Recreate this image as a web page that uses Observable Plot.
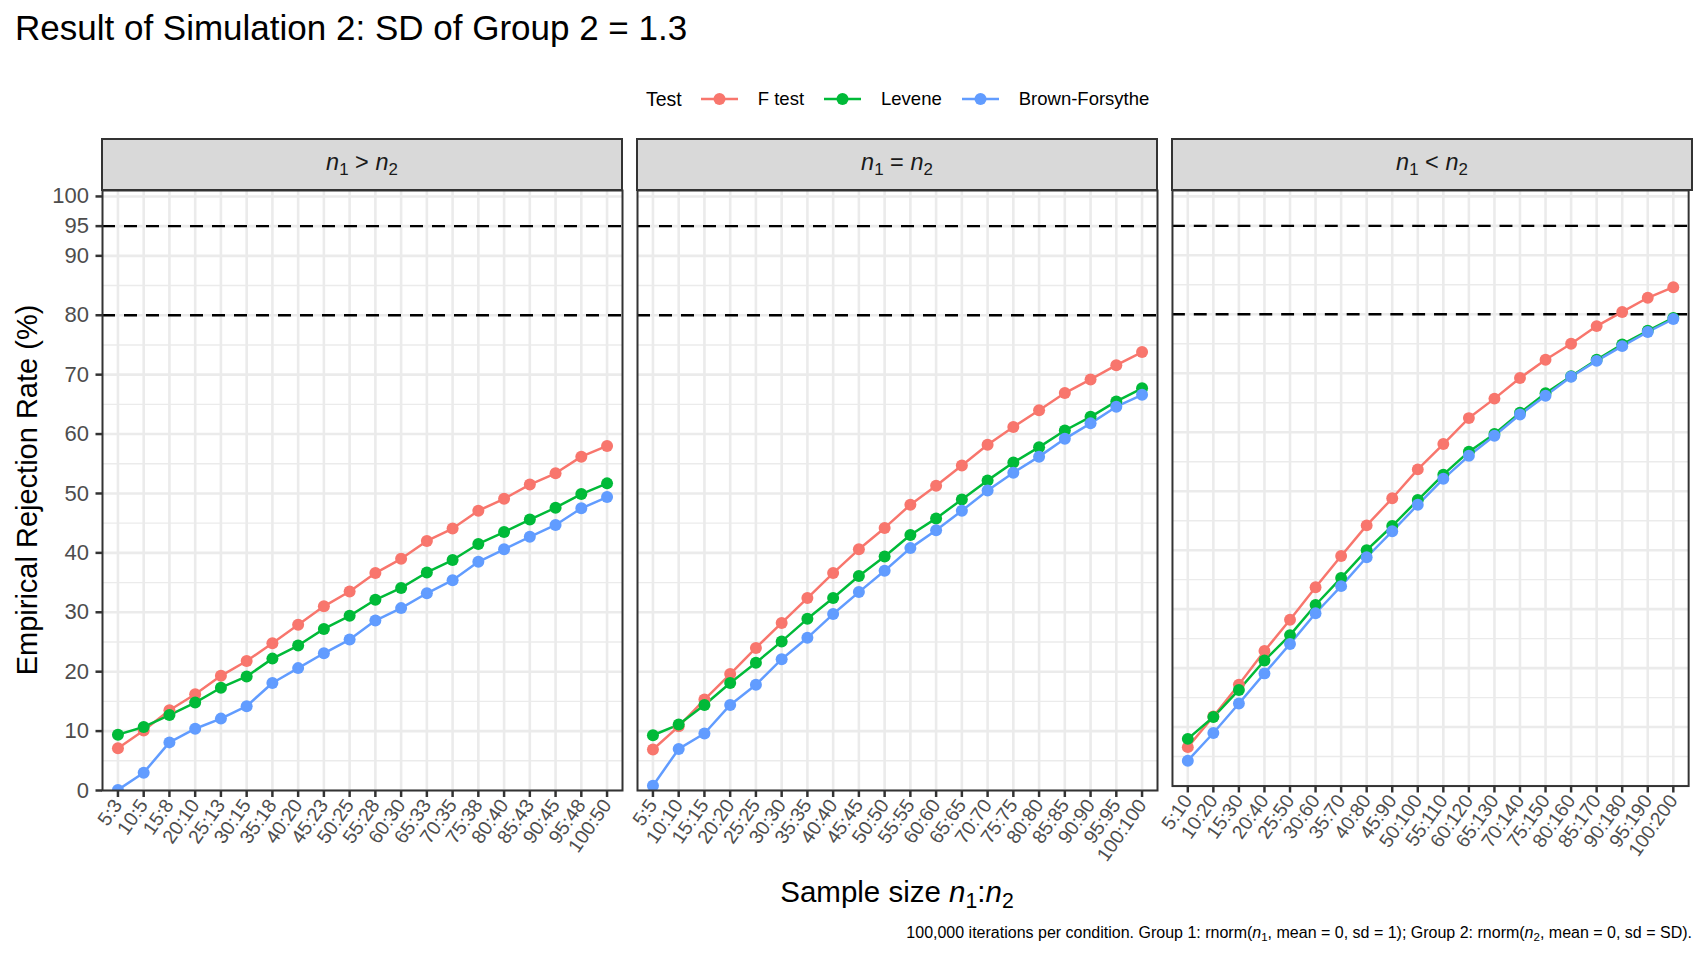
<!DOCTYPE html>
<html>
<head>
<meta charset="utf-8">
<script src="https://cdn.jsdelivr.net/npm/d3@7"></script>
<script src="https://cdn.jsdelivr.net/npm/@observablehq/plot@0.6"></script>
<style>
  html, body { margin: 0; padding: 0; background: #fff; }
  #wrap { position: relative; width: 1708px; height: 960px; font-family: "Liberation Sans", Arial, sans-serif; color: #000; overflow: hidden; }
  .abs { position: absolute; white-space: nowrap; }
  .strip { position: absolute; box-sizing: border-box; background: #D9D9D9; border: 2px solid #333333; display: flex; align-items: center; justify-content: center; color: #1A1A1A; padding-bottom: 4px; }
  .strip span.t { font-size: 23.5px; white-space: pre; }
  sub { font-size: 0.72em; vertical-align: -0.3em; line-height: 0; }
  .legend { display: flex; align-items: center; }
  .legend .title { font-size: 19.5px; margin-right: 19px; }
  .legend .lab { font-size: 18.5px; margin-left: 20px; margin-right: 20px; }
</style>
</head>
<body>
<div id="wrap"></div>
<script>
// ---------- data ----------
const tests = ["F test", "Levene", "Brown-Forsythe"];
const testColors = ["#F8766D", "#00BA38", "#619CFF"];
const panelNames = ["n1 > n2", "n1 = n2", "n1 < n2"];
const panelLabels = ["<i>n</i><sub>1</sub> &gt; <i>n</i><sub>2</sub>", "<i>n</i><sub>1</sub> = <i>n</i><sub>2</sub>", "<i>n</i><sub>1</sub> &lt; <i>n</i><sub>2</sub>"];

const sizesGT = ["5:3","10:5","15:8","20:10","25:13","30:15","35:18","40:20","45:23","50:25","55:28","60:30","65:33","70:35","75:38","80:40","85:43","90:45","95:48","100:50"];
const sizesEQ = ["5:5","10:10","15:15","20:20","25:25","30:30","35:35","40:40","45:45","50:50","55:55","60:60","65:65","70:70","75:75","80:80","85:85","90:90","95:95","100:100"];
const sizesLT = ["5:10","10:20","15:30","20:40","25:50","30:60","35:70","40:80","45:90","50:100","55:110","60:120","65:130","70:140","75:150","80:160","85:170","90:180","95:190","100:200"];

const fGT      = [7.1,10.1,13.5,16.2,19.3,21.8,24.8,27.9,31.0,33.5,36.6,39.0,42.0,44.1,47.1,49.1,51.5,53.4,56.2,58.0];
const leveneGT = [9.4,10.7,12.7,14.8,17.3,19.2,22.2,24.4,27.2,29.4,32.1,34.1,36.7,38.8,41.5,43.5,45.6,47.6,49.9,51.7];
const bfGT     = [0.1,3.0,8.1,10.4,12.1,14.2,18.1,20.6,23.1,25.4,28.6,30.7,33.2,35.4,38.5,40.6,42.7,44.7,47.5,49.4];

const fEQ      = [6.9,10.8,15.3,19.6,24.0,28.2,32.4,36.6,40.6,44.2,48.1,51.3,54.7,58.2,61.2,64.0,66.9,69.2,71.6,73.8];
const leveneEQ = [9.3,11.1,14.4,18.1,21.5,25.1,28.9,32.4,36.1,39.4,43.0,45.8,49.0,52.2,55.2,57.8,60.6,62.9,65.5,67.7];
const bfEQ     = [0.8,7.0,9.6,14.4,17.8,22.1,25.7,29.7,33.4,37.0,40.8,43.8,47.1,50.5,53.5,56.2,59.2,61.8,64.6,66.6];

const fLT      = [6.6,11.8,17.2,22.9,28.2,33.7,39.0,44.2,48.8,53.7,58.0,62.4,65.7,69.2,72.3,75.0,78.0,80.4,82.8,84.6];
const leveneLT = [8.0,11.7,16.3,21.3,25.6,30.7,35.3,40.0,44.1,48.5,52.8,56.7,59.7,63.3,66.6,69.5,72.3,74.9,77.2,79.4];
const bfLT     = [4.3,9.0,14.0,19.1,24.1,29.3,33.9,38.8,43.2,47.7,52.1,56.0,59.4,63.0,66.2,69.4,72.1,74.6,77.0,79.2];

const yBreaks = [0,10,20,30,40,50,60,70,80,90,95,100];
const yMinor = [5,15,25,35,45,55,65,75,85];
const refLines = [80, 95];
const yDomain = [0, 101];

const titleText = "Result of Simulation 2: SD of Group 2 = 1.3";
const yTitle = "Empirical Rejection Rate (%)";
const xTitleHTML = "Sample size <i>n</i><sub>1</sub>:<i>n</i><sub>2</sub>";
const captionHTML = "100,000 iterations per condition. Group 1: rnorm(<i>n</i><sub>1</sub>, mean = 0, sd = 1); Group 2: rnorm(<i>n</i><sub>2</sub>, mean = 0, sd = SD).";

// ---------- build ----------
const panelSizes = [sizesGT, sizesEQ, sizesLT];
const panelSeries = [[fGT, leveneGT, bfGT], [fEQ, leveneEQ, bfEQ], [fLT, leveneLT, bfLT]];

function rowsFor(p) {
  const rows = [];
  panelSeries[p].forEach((vals, t) => {
    vals.forEach((v, i) => rows.push({panel: panelNames[p], size: panelSizes[p][i], test: tests[t], rate: v}));
  });
  return rows;
}

const wrap = document.getElementById("wrap");
const FONT = "'Liberation Sans', Arial, sans-serif";

// layout (pixels)
const panelTop = 190, panelH = 600;
const panelLefts = [102, 637, 1172];
const panelW = 520;
const stripTop = 138;
const mT = 4, mB = 100, mR = 20;

function el(html, cls, style) {
  const d = document.createElement("div");
  d.className = cls;
  d.innerHTML = html;
  Object.assign(d.style, style);
  wrap.appendChild(d);
  return d;
}

// title
el(titleText, "abs", {left: "15px", top: "10px", fontSize: "35px", lineHeight: "35px"});

// legend
const leg = el("", "abs legend", {left: "646px", top: "84px", height: "30px"});
leg.innerHTML = `<span class="title">Test</span>` + tests.map((t, i) =>
  `<svg width="37" height="20" style="overflow:visible"><line x1="0" x2="37" y1="10" y2="10" stroke="${testColors[i]}" stroke-width="2.5"/><circle cx="18.5" cy="10" r="6" fill="${testColors[i]}"/></svg><span class="lab">${t}</span>`
).join("");

// panels
panelNames.forEach((name, p) => {
  const first = p === 0;
  const mL = first ? panelLefts[0] : 4;
  const rows = rowsFor(p);
  const chart = Plot.plot({
    width: mL + panelW + mR,
    height: mT + panelH + mB,
    marginLeft: mL, marginRight: mR, marginTop: mT, marginBottom: mB,
    style: {fontFamily: FONT, background: "transparent", overflow: "visible"},
    x: {type: "point", domain: panelSizes[p], padding: 0.6, round: false, axis: null},
    y: {domain: yDomain, nice: false, axis: null},
    color: {domain: tests, range: testColors},
    marks: [
      Plot.ruleY(yMinor, {stroke: "#EBEBEB", strokeWidth: 1.4}),
      Plot.ruleY(yBreaks, {stroke: "#EBEBEB", strokeWidth: 2.6}),
      Plot.ruleX(panelSizes[p], {stroke: "#EBEBEB", strokeWidth: 2.6}),
      Plot.ruleY(refLines, {stroke: "#000", strokeWidth: 2.4, strokeDasharray: "13,9"}),
      Plot.line(rows, {x: "size", y: "rate", z: "test", stroke: "test", strokeWidth: 2.5, clip: true}),
      Plot.dot(rows, {x: "size", y: "rate", fill: "test", r: 6, clip: true}),
      Plot.frame({stroke: "#333333", strokeWidth: 2}),
      Plot.axisX(panelSizes[p], {tickRotate: -55, tickSize: 7, tickPadding: 4, fontSize: 19.5, stroke: "#333333", strokeWidth: 2.5, fill: "#4D4D4D", label: null}),
      first ? Plot.axisY(yBreaks, {tickSize: 6.5, tickPadding: 7, fontSize: 22, stroke: "#333333", strokeWidth: 2.5, fill: "#4D4D4D", label: null}) : null
    ]
  });
  const holder = el("", "abs", {left: (panelLefts[p] - mL) + "px", top: (panelTop - mT) + "px"});
  holder.appendChild(chart);
  // strip
  el(`<span class="t">${panelLabels[p]}</span>`, "strip", {left: (panelLefts[p] - 1) + "px", top: stripTop + "px", width: (panelW + 2) + "px", height: (panelTop - stripTop + 1) + "px"});
});

// axis titles
el(yTitle, "abs", {left: "27px", top: "490px", fontSize: "29px", lineHeight: "29px", transform: "translate(-50%, -50%) rotate(-90deg)"});
el(xTitleHTML, "abs", {left: "897px", top: "891px", fontSize: "29.5px", lineHeight: "29px", transform: "translate(-50%, -50%)"});
// caption
el(captionHTML, "abs", {right: "16px", top: "925px", fontSize: "16px", lineHeight: "16px"});
</script>
</body>
</html>
